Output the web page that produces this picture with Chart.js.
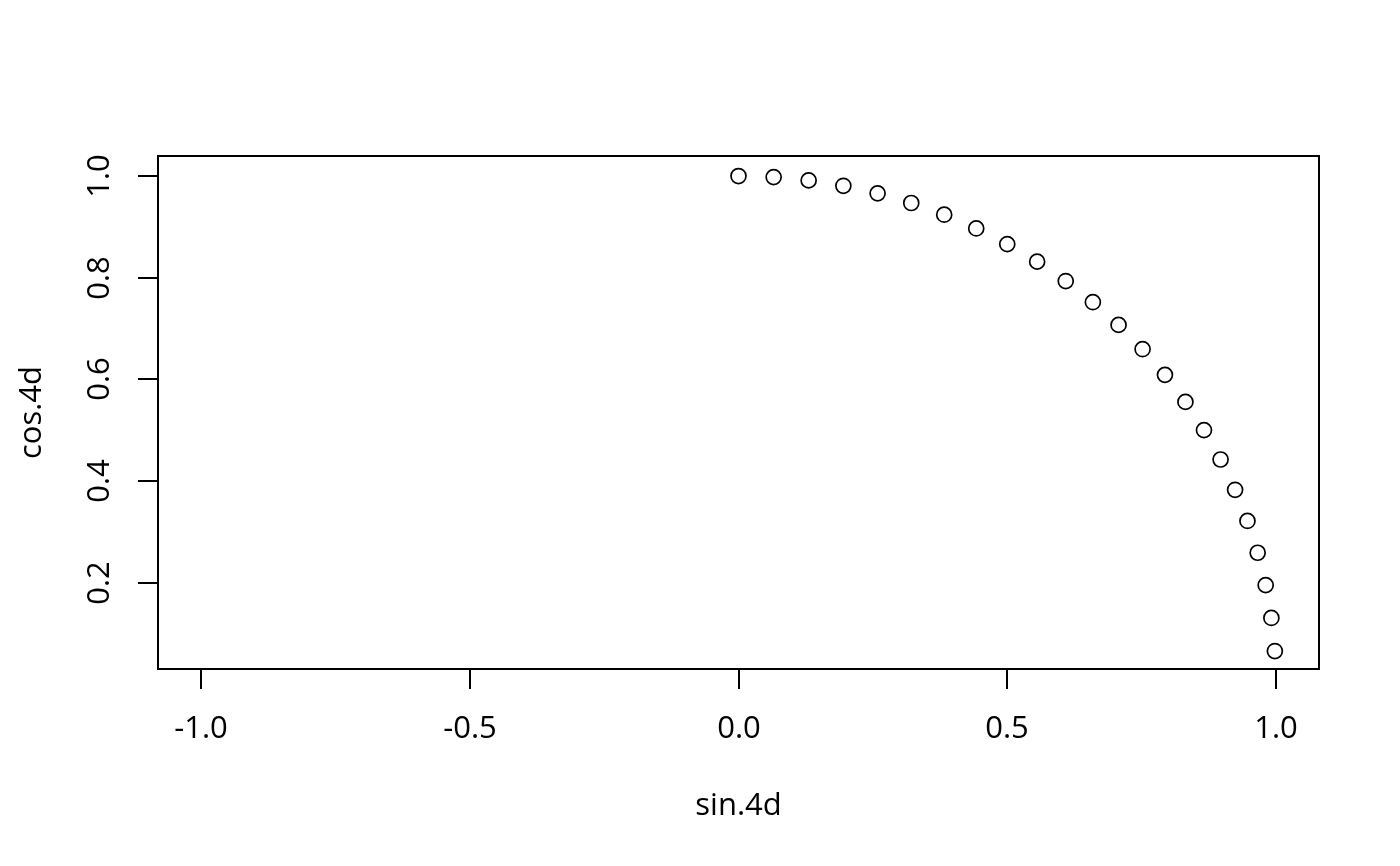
<!DOCTYPE html>
<html>
<head>
<meta charset="utf-8">
<script src="https://cdn.jsdelivr.net/npm/chart.js@4"></script>
<style>
  html, body { margin: 0; padding: 0; background: #fff; }
  #wrap { width: 1400px; height: 866px; }
</style>
</head>
<body>
<div id="wrap"><canvas id="myChart" width="1400" height="866"></canvas></div>
<script>
// values
var sinValues = [0, 0.0654, 0.1305, 0.1951, 0.2588, 0.3214, 0.3827, 0.4423, 0.5, 0.5556, 0.6088, 0.6593,
                 0.7071, 0.7518, 0.7934, 0.8315, 0.8660, 0.8969, 0.9239, 0.9469, 0.9659, 0.9808, 0.9914, 0.9979];
var cosValues = [1, 0.9979, 0.9914, 0.9808, 0.9659, 0.9469, 0.9239, 0.8969, 0.8660, 0.8315, 0.7934, 0.7518,
                 0.7071, 0.6593, 0.6088, 0.5556, 0.5, 0.4423, 0.3827, 0.3214, 0.2588, 0.1951, 0.1305, 0.0654];
var xTicks = [-1.0, -0.5, 0.0, 0.5, 1.0];
var yTicks = [0.2, 0.4, 0.6, 0.8, 1.0];
var xTitle = "sin.4d";
var yTitle = "cos.4d";

var points = sinValues.map(function (s, i) { return { x: s, y: cosValues[i] }; });

var fontSize = 31;
var font = fontSize + 'px "Open Sans"';

// R style box, ticks and labels
var baseAxes = {
    id: 'baseAxes',
    afterDraw: function (chart) {
        var ctx = chart.ctx;
        var a = chart.chartArea;
        var xs = chart.scales.x;
        var ys = chart.scales.y;
        ctx.save();
        ctx.strokeStyle = '#000';
        ctx.fillStyle = '#000';
        ctx.lineWidth = 2;
        ctx.strokeRect(a.left, a.top, a.right - a.left, a.bottom - a.top);

        ctx.font = font;
        // x axis
        ctx.textAlign = 'center';
        ctx.textBaseline = 'alphabetic';
        xTicks.forEach(function (v) {
            var px = Math.round(xs.getPixelForValue(v));
            ctx.beginPath();
            ctx.moveTo(px, a.bottom);
            ctx.lineTo(px, a.bottom + 20);
            ctx.stroke();
            ctx.fillText(v.toFixed(1), px, a.bottom + 69);
        });
        ctx.fillText(xTitle, (a.left + a.right) / 2, a.bottom + 146);

        // y axis
        yTicks.forEach(function (v) {
            var py = Math.round(ys.getPixelForValue(v));
            ctx.beginPath();
            ctx.moveTo(a.left, py);
            ctx.lineTo(a.left - 20, py);
            ctx.stroke();
            ctx.save();
            ctx.translate(a.left - 49, py);
            ctx.rotate(-Math.PI / 2);
            ctx.fillText(v.toFixed(1), 0, 0);
            ctx.restore();
        });
        ctx.save();
        ctx.translate(a.left - 117, (a.top + a.bottom) / 2);
        ctx.rotate(-Math.PI / 2);
        ctx.fillText(yTitle, 0, 0);
        ctx.restore();
        ctx.restore();
    }
};

var ctx = document.getElementById("myChart").getContext("2d");
var myChart = new Chart(ctx, {
    type: 'scatter',
    data: {
        datasets: [{
            data: points,
            pointStyle: 'circle',
            pointRadius: 7.5,
            pointHoverRadius: 7.5,
            pointBorderWidth: 1.7,
            borderColor: '#000',
            backgroundColor: 'rgba(0,0,0,0)',
        }],
    },
    options: {
        responsive: false,
        animation: false,
        layout: { padding: { left: 158, top: 156, right: 81, bottom: 197 } },
        plugins: {
            legend: { display: false },
            tooltip: { enabled: false },
        },
        scales: {
            x: { type: 'linear', min: -1.08, max: 1.08, display: false },
            y: { type: 'linear', min: 0.0301, max: 1.0394, display: false },
        },
    },
    plugins: [baseAxes],
});
</script>
</body>
</html>
